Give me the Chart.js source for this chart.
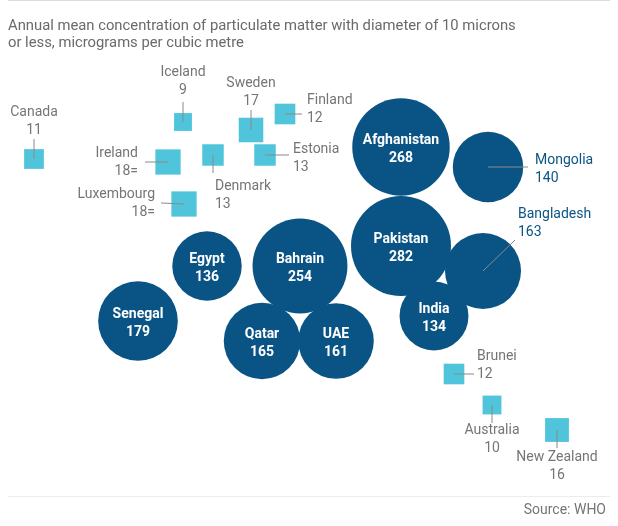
<!DOCTYPE html>
<html>
<head>
<meta charset="utf-8">
<script src="https://cdn.jsdelivr.net/npm/chart.js@4.4.0/dist/chart.umd.min.js"></script>
<style>
    html, body { margin: 0; padding: 0; background: #fff; }
    #wrap { width: 618px; height: 526px; position: relative; }
</style>
</head>
<body>
<div id="wrap"><canvas id="chart"></canvas></div>
<script>
const titleLines = [
    'Annual mean concentration of particulate matter with diameter of 10 microns',
    'or less, micrograms per cubic metre',
];
const sourceText = 'Source: WHO';

// most polluted (circles)
const bigNames = ['Afghanistan', 'Mongolia', 'Pakistan', 'Bangladesh', 'India', 'Bahrain', 'Egypt', 'Senegal', 'Qatar', 'UAE'];
const bigValues = [268, 140, 282, 163, 134, 254, 136, 179, 165, 161];
const bigLabels = ['268', '140', '282', '163', '134', '254', '136', '179', '165', '161'];

// least polluted (squares)
const smallNames = ['Canada', 'Iceland', 'Sweden', 'Finland', 'Ireland', 'Denmark', 'Estonia', 'Luxembourg', 'Brunei', 'Australia', 'New Zealand'];
const smallValues = [11, 9, 17, 12, 18, 13, 13, 18, 12, 10, 16];
const smallLabels = ['11', '9', '17', '12', '18=', '13', '13', '18=', '12', '10', '16'];

// layout of the packed bubbles (layout units, x right / y down)
const bigX = [401, 488, 401, 483, 434, 300, 207, 138, 262, 336];
const bigY = [147, 167, 246, 271, 316, 266, 266, 321, 341, 341];
const smallX = [34, 183, 251, 285, 168, 213, 265, 184, 454, 492, 557];
const smallY = [159, 122, 130, 114, 162, 155, 155, 204, 374, 405, 430];

// label placement: [textX, baseline1, align, lineEndX, lineEndY] ; null = inside
const bigLabelPos = [null, [535, 164, 'left', 528, 167], null, [518, 218, 'left', 515, 240], null, null, null, null, null, null];
const smallLabelPos = [
    [34, 116, 'center', 34, 139],
    [183, 76, 'center', 183, 102],
    [251, 87, 'center', 251, 110],
    [307, 104, 'left', 302, 114],
    [138, 157, 'right', 145, 162],
    [215, 190, 'left', 213, 173],
    [293, 153, 'left', 289, 155],
    [155, 198, 'right', 161, 203],
    [477, 360, 'left', 474, 374],
    [492, 434, 'center', 492, 423],
    [557, 461, 'center', 557, 448],
];

const DARK = '#0a5485';
const CYAN = '#4fc4da';
const GREY = '#757575';
const FONT = 'Roboto, "Noto Sans", sans-serif';
const K = 50 / Math.sqrt(282); // radius per sqrt(value)

const ctx = document.getElementById('chart');

const labelPlugin = {
    id: 'labels',
    afterDatasetsDraw(chart) {
        const c = chart.ctx;
        const xs = chart.scales.x;
        const ys = chart.scales.y;
        const W = chart.width;

        c.save();
        // rules
        c.fillStyle = '#dcdcdc';
        c.fillRect(8, 0, W - 16, 1);
        c.fillStyle = '#ececec';
        c.fillRect(8, 496, W - 16, 1);

        // title
        c.fillStyle = '#6a6a6a';
        c.font = '14.8px ' + FONT;
        c.textAlign = 'left';
        c.textBaseline = 'alphabetic';
        titleLines.forEach((t, i) => c.fillText(t, 8, 30 + i * 17));

        c.font = '14px ' + FONT;
        c.textAlign = 'right';
        c.fillStyle = GREY;
        c.fillText(sourceText, 606, 514);

        function drawLeader(el, pos) {
            c.strokeStyle = '#8a8a8a';
            c.lineWidth = 1;
            c.beginPath();
            c.moveTo(el.x, el.y);
            c.lineTo(xs.getPixelForValue(pos[3]), ys.getPixelForValue(pos[4]));
            c.stroke();
        }
        function drawOutside(pos, name, val, color) {
            c.fillStyle = color;
            c.font = '14px ' + FONT;
            c.textAlign = pos[2];
            const tx = xs.getPixelForValue(pos[0]);
            const ty = ys.getPixelForValue(pos[1]);
            c.fillText(name, tx, ty);
            c.fillText(val, tx, ty + 18);
        }

        const sq = chart.getDatasetMeta(1).data;
        sq.forEach((el, i) => {
            const pos = smallLabelPos[i];
            drawLeader(el, pos);
            drawOutside(pos, smallNames[i], smallLabels[i], GREY);
        });

        const ci = chart.getDatasetMeta(0).data;
        ci.forEach((el, i) => {
            const pos = bigLabelPos[i];
            if (pos) {
                drawLeader(el, pos);
                drawOutside(pos, bigNames[i], bigLabels[i], DARK);
            } else {
                c.fillStyle = '#ffffff';
                c.font = 'bold 14px ' + FONT;
                c.textAlign = 'center';
                c.fillText(bigNames[i], el.x, el.y - 3);
                c.fillText(bigLabels[i], el.x, el.y + 15);
            }
        });
        c.restore();
    },
};

new Chart(ctx, {
    type: 'bubble',
    data: {
        datasets: [
            {
                label: 'Most polluted',
                data: bigNames.map((n, i) => ({ x: bigX[i], y: bigY[i], r: K * Math.sqrt(bigValues[i]) })),
                backgroundColor: DARK,
                borderWidth: 0,
                pointStyle: 'circle',
            },
            {
                label: 'Least polluted',
                // rect point style draws half-side = r * SQRT1_2
                data: smallNames.map((n, i) => ({ x: smallX[i], y: smallY[i], r: K * Math.sqrt(smallValues[i]) / Math.SQRT1_2 })),
                backgroundColor: CYAN,
                borderWidth: 0,
                pointStyle: 'rect',
            },
        ],
    },
    options: {
        responsive: true,
        maintainAspectRatio: false,
        animation: false,
        events: [],
        layout: { padding: 0, autoPadding: false },
        plugins: { legend: { display: false }, tooltip: { enabled: false } },
        scales: {
            x: { type: 'linear', min: 0, max: 618, display: false },
            y: { type: 'linear', min: 0, max: 526, reverse: true, display: false },
        },
    },
    plugins: [labelPlugin],
});
</script>
</body>
</html>
